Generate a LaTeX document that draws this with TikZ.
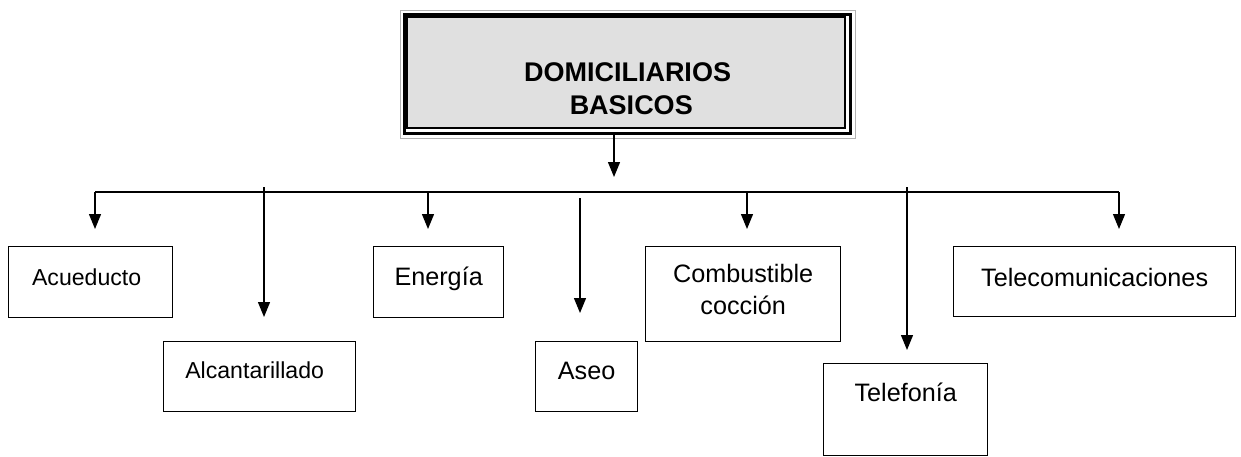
\documentclass[tikz,border=0pt]{standalone}
\usepackage{fontspec}
\setmainfont{Liberation Sans}
\usetikzlibrary{arrows.meta}
\definecolor{boxgray}{HTML}{E0E0E0}
\tikzset{
  arr/.style={line width=1.3pt, -{Triangle[width=12pt,length=15pt]}},
  item/.style={draw, line width=1.3pt, anchor=north west, inner sep=0pt,
    font=\fontsize{25.2}{32}\selectfont},
  small/.style={font=\fontsize{23.1}{30}\selectfont},
  titlebox/.style={draw, line width=3pt, anchor=north west, inner sep=0pt,
    font=\bfseries\fontsize{27}{33}\selectfont}
}
\begin{document}
\begin{tikzpicture}[x=1pt, y=-1pt]
  \useasboundingbox (0,0) rectangle (1241,456);
  % Title
  \fill[boxgray] (407,17) rectangle (845,128);
  \draw[line width=1.2pt] (407,17) rectangle (845,128);
  \node[titlebox, minimum width=446pt, text height=67pt, text depth=52pt] (top) at (403,13)
    {\begin{tabular}[t]{@{}c@{}}DOMICILIARIOS\\~BASICOS\end{tabular}};
  \draw[gray!60, line width=0.6pt] ([shift={(-3,-3)}]top.north west) rectangle ([shift={(3,3)}]top.south east);
  % Services
  \node[item, small, minimum width=164pt, text height=39pt, text depth=32pt] (acu) at (8,246) {Acueducto\hspace*{8pt}};
  \node[item, small, minimum width=192pt, text height=37pt, text depth=33pt] (alc) at (163,341) {Alcantarillado\hspace*{10pt}};
  \node[item, minimum width=130pt, text height=39pt, text depth=32pt] (ene) at (373,246) {Energía};
  \node[item, minimum width=102pt, text height=38pt, text depth=32pt] (ase) at (535,341) {Aseo};
  \node[item, minimum width=195pt, text height=36pt, text depth=59pt] (com) at (645,246)
    {\begin{tabular}[t]{@{}c@{}}Combustible\\cocción\end{tabular}};
  \node[item, minimum width=164pt, text height=38pt, text depth=54pt] (tel) at (823,363) {Telefonía};
  \node[item, minimum width=282pt, text height=40pt, text depth=30pt] (tco) at (953,246) {Telecomunicaciones};
  % Bus
  \coordinate (busw) at (95,192);
  \coordinate (buse) at (1119,192);
  \coordinate (toptip) at (614,177);
  \coordinate (acutip) at (95,229);
  \coordinate (alcstart) at (264,187);
  \coordinate (alctip) at (264,317);
  \coordinate (enetip) at (428,229);
  \coordinate (asestart) at (580,198);
  \coordinate (asetip) at (580,313);
  \coordinate (comtip) at (747,229);
  \coordinate (telstart) at (907,187);
  \coordinate (teltip) at (907,350);
  \coordinate (tcotip) at (1119,229);
  \draw[line width=1.3pt] (busw) -- (buse);
  % Arrows
  \draw[arr] (top.south -| toptip) -- (toptip);
  \draw[arr] (busw) -- (acutip);
  \draw[arr] (alcstart) -- (alctip);
  \draw[arr] (busw -| enetip) -- (enetip);
  \draw[arr] (asestart) -- (asetip);
  \draw[arr] (busw -| comtip) -- (comtip);
  \draw[arr] (telstart) -- (teltip);
  \draw[arr] (buse) -- (tcotip);
\end{tikzpicture}
\end{document}
